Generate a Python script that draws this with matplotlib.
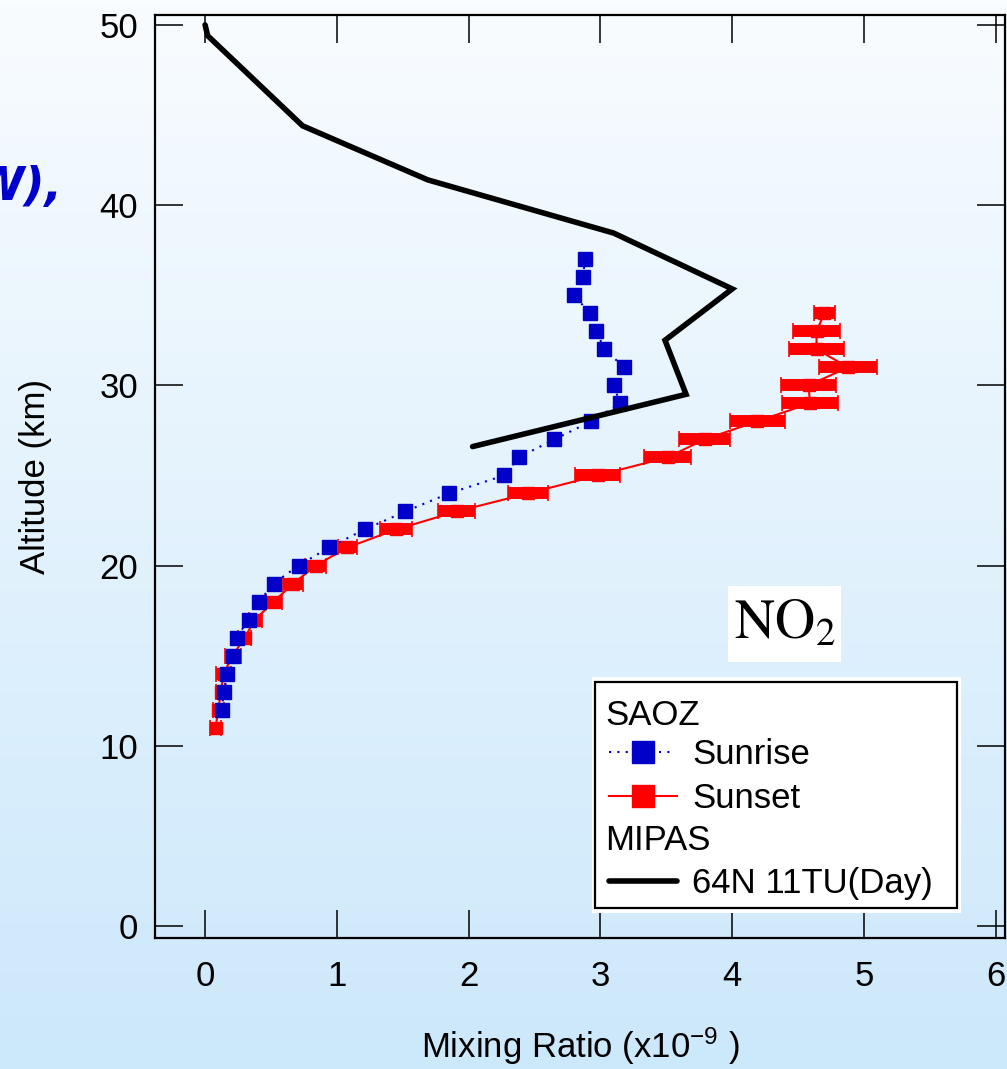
import numpy as np
import matplotlib.pyplot as plt
from matplotlib.lines import Line2D
from matplotlib.patches import Rectangle

plt.rcParams['font.family'] = ['Liberation Sans', 'DejaVu Sans']
plt.rcParams['mathtext.fontset'] = 'custom'
plt.rcParams['mathtext.rm'] = 'Liberation Sans'
plt.rcParams['mathtext.default'] = 'rm'

# ---- data ----
sunset_alt = [11, 12, 13, 14, 15, 16, 17, 18, 19, 20, 21, 22,
              23, 24, 25, 26, 27, 28, 29, 30, 31, 32, 33, 34]
sunset_no2 = [0.08, 0.10, 0.12, 0.14, 0.21, 0.30, 0.38, 0.52, 0.67, 0.84, 1.08, 1.45,
              1.91, 2.45, 2.98, 3.51, 3.79, 4.19, 4.59, 4.58, 4.88, 4.64, 4.64, 4.70]
sunset_err = [0.04, 0.04, 0.04, 0.06, 0.06, 0.05, 0.05, 0.06, 0.075, 0.08, 0.075, 0.12,
              0.14, 0.15, 0.17, 0.18, 0.19, 0.21, 0.21, 0.21, 0.22, 0.21, 0.18, 0.08]

sunrise_alt = [12, 13, 14, 15, 16, 17, 18, 19, 20, 21, 22, 23, 24,
               25, 26, 27, 28, 29, 30, 31, 32, 33, 34, 35, 36, 37]
sunrise_no2 = [0.13, 0.14, 0.17, 0.21, 0.24, 0.33, 0.41, 0.52, 0.71, 0.94, 1.21, 1.52, 1.85,
               2.27, 2.38, 2.65, 2.93, 3.15, 3.10, 3.18, 3.03, 2.97, 2.92, 2.80, 2.87, 2.88]

mipas_alt = [50.0, 49.4, 44.4, 41.4, 38.45, 35.35, 32.5, 29.5, 26.6]
mipas_no2 = [0.0, 0.02, 0.74, 1.69, 3.10, 4.00, 3.49, 3.65, 2.03]

W, H = 1007, 1069
fig = plt.figure(figsize=(W / 100, H / 100), dpi=100)

# background gradient (white -> light blue)
bg = fig.add_axes([0, 0, 1, 1], zorder=-10)
grad = np.linspace(0, 1, 256).reshape(-1, 1)
top = np.array([0.975, 0.988, 1.0])
bot = np.array([0.80, 0.91, 0.985])
img = top + (bot - top) * grad[..., None]
bg.imshow(img, aspect='auto', extent=[0, 1, 0, 1])
bg.axis('off')

ax_l, ax_r, ax_t, ax_b = 155, 1005, 15, 938
ax = fig.add_axes([ax_l / W, 1 - ax_b / H, (ax_r - ax_l) / W, (ax_b - ax_t) / H])
ax.patch.set_alpha(0)

red = '#FF0000'
blue = '#0000C8'

# SAOZ sunset
_, caps, _ = ax.errorbar(sunset_no2, sunset_alt, xerr=sunset_err, fmt='s-', color=red,
                         ms=9, lw=1.5, ecolor=red, elinewidth=8.6, capsize=5.5,
                         capthick=1.2, zorder=3)
for c in caps:
    c.set_color('#1F5FFF')

# SAOZ sunrise
ax.plot(sunrise_no2, sunrise_alt, color=blue, ls=(0, (1, 3)), lw=1.5,
        marker='s', ms=10, mec=blue, mfc=blue, zorder=4)

# MIPAS
ax.plot(mipas_no2, mipas_alt, color='black', lw=4, solid_capstyle='round',
        solid_joinstyle='miter', zorder=5)

ax.set_xlim(-0.38, 6.07)
ax.set_ylim(-0.67, 50.55)
ax.set_xticks(range(0, 7))
ax.set_yticks(range(0, 51, 10))
ax.tick_params(direction='in', length=20, width=1.1, top=True, right=True,
               labelsize=25, colors='black')
ax.tick_params(axis='x', pad=16)
ax.tick_params(axis='y', pad=12)
for s in ax.spines.values():
    s.set_linewidth(1.6)

ax.set_xlabel('Mixing Ratio (x10$^{-9}$ )', fontsize=25, labelpad=23)
ax.set_ylabel('Altitude (km)', fontsize=25, labelpad=34)


def px(x, y):
    return ((x - ax_l) / (ax_r - ax_l), (ax_b - y) / (ax_b - ax_t))


# NO2 label with white box
x0, y0 = px(728, 662)
x1, y1 = px(841, 586)
ax.add_patch(Rectangle((x0, y0), x1 - x0, y1 - y0, transform=ax.transAxes,
                       facecolor='white', edgecolor='none', zorder=6))
ax.text((x0 + x1) / 2, (y0 + y1) / 2, r'$\mathrm{NO_2}$', transform=ax.transAxes,
        ha='center', va='center', fontsize=40, math_fontfamily='stix', zorder=7)

# legend drawn by hand
x0, y0 = px(592, 913)
x1, y1 = px(961, 677)
ax.add_patch(Rectangle((x0, y0), x1 - x0, y1 - y0, transform=ax.transAxes,
                       facecolor='white', edgecolor='none', zorder=6))
x0, y0 = px(595, 908)
x1, y1 = px(957, 682)
ax.add_patch(Rectangle((x0, y0), x1 - x0, y1 - y0, transform=ax.transAxes,
                       facecolor='none', edgecolor='black', lw=1.6, zorder=7))

rows = [('SAOZ', 725, None), ('Sunrise', 764, 'sunrise'), ('Sunset', 808, 'sunset'),
        ('MIPAS', 850, None), ('64N 11TU(Day)', 893, 'mipas')]
for label, base, kind in rows:
    tx = 605 if kind is None else 692
    ax.text(*px(tx, base), label, transform=ax.transAxes, fontsize=25,
            ha='left', va='baseline', zorder=8)
    yc = base - 12
    if kind == 'sunrise':
        xa, ya = px(609, yc)
        xb, _ = px(672, yc)
        xm, _ = px(643, yc)
        ax.add_line(Line2D([xa, xb], [ya, ya], transform=ax.transAxes, color=blue,
                           ls=(0, (1, 3)), lw=1.5, zorder=8))
        ax.add_line(Line2D([xm], [ya], transform=ax.transAxes, marker='s', ms=16,
                           color=blue, ls='none', zorder=9))
    elif kind == 'sunset':
        xa, ya = px(609, yc)
        xb, _ = px(677, yc)
        xm, _ = px(643, yc)
        ax.add_line(Line2D([xa, xb], [ya, ya], transform=ax.transAxes, color=red,
                           lw=1.5, zorder=8))
        ax.add_line(Line2D([xm], [ya], transform=ax.transAxes, marker='s', ms=16,
                           color=red, ls='none', zorder=9))
    elif kind == 'mipas':
        xa, ya = px(609, yc)
        xb, _ = px(677, yc)
        ax.add_line(Line2D([xa, xb], [ya, ya], transform=ax.transAxes, color='black',
                           lw=4, solid_capstyle='round', zorder=8))

# leftover slide title fragment (cut at the left edge as in the slide)
fig.text(62 / W, 1 - 200 / H, 'W),', color='#0000CC', fontsize=33,
         fontweight='bold', style='italic', family=['DejaVu Sans'],
         ha='right', va='baseline')

fig.savefig('out.png', dpi=100)
